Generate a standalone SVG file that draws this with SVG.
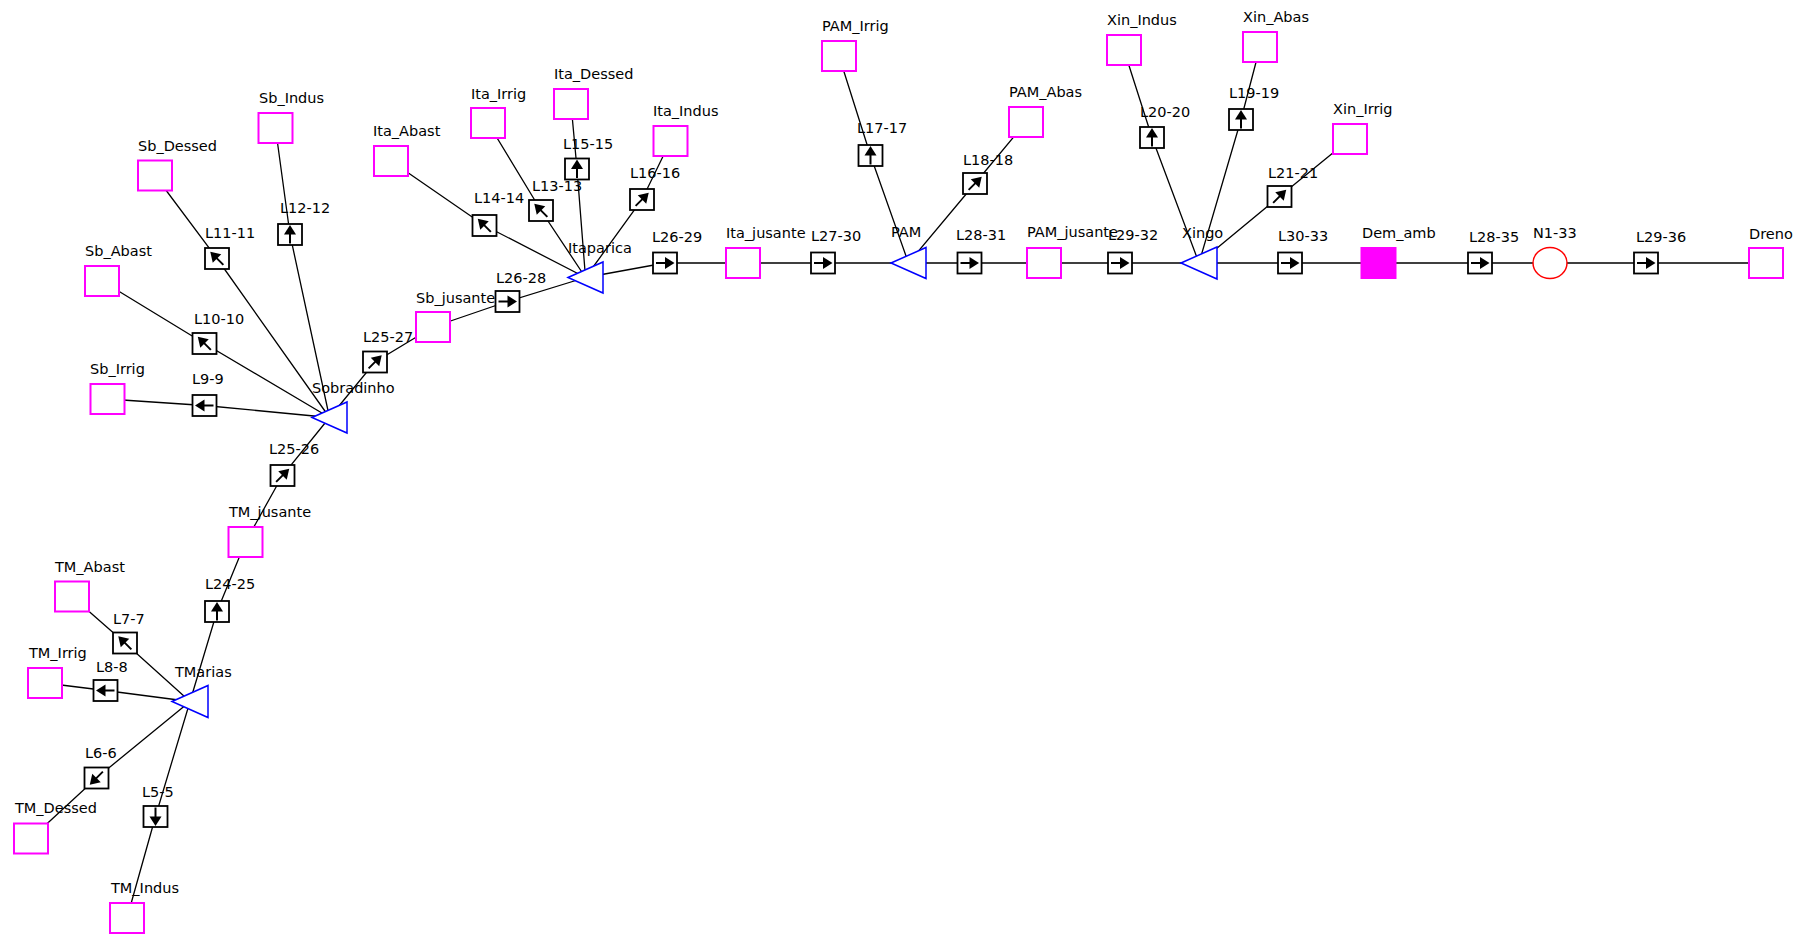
<svg xmlns="http://www.w3.org/2000/svg" xmlns:xlink="http://www.w3.org/1999/xlink" width="1795" height="936" viewBox="0 0 1795 936">
<style>
text{font-family:"DejaVu Sans","Liberation Sans",sans-serif;font-size:14.5px;fill:#000}
.dem{fill:#fff;stroke:#ff00ff;stroke-width:2}
.demf{fill:#ff00ff;stroke:#ff00ff;stroke-width:2}
.res{fill:#fff;stroke:#0000ff;stroke-width:1.5}
.box{fill:#fff;stroke:#000;stroke-width:1.8}
.nd{fill:#fff;stroke:#ff0000;stroke-width:1.5}
.cn{fill:none;stroke:#000;stroke-width:1.3}
</style>
<defs>
<g id="arr"><line x1="-9" y1="0" x2="3" y2="0" stroke="#000" stroke-width="2"/><polygon points="0,-6 9.5,0 0,6" fill="#000"/></g>
</defs>
<rect width="1795" height="936" fill="#fff"/>
<g id="connectors" class="cn">
<polyline points="72,596.5 125,643 190,701.5"/>
<polyline points="45,683 105.5,690.5 190,701.5"/>
<polyline points="31,838.5 96.5,778 190,701.5"/>
<polyline points="127,918 155.5,816.5 190,701.5"/>
<polyline points="190,701.5 217,611.5 245.5,542 282.5,475.5 329.5,417.5"/>
<polyline points="107.5,399 204.5,405.5 329.5,417.5"/>
<polyline points="102,281 204.5,343.5 329.5,417.5"/>
<polyline points="155,175.5 217,258.5 329.5,417.5"/>
<polyline points="275.5,128 290,234.5 329.5,417.5"/>
<polyline points="329.5,417.5 375,362 433,327 507.5,301.5 585.5,277.5"/>
<polyline points="391,161 484.5,225.5 585.5,277.5"/>
<polyline points="488,123 541,210.5 585.5,277.5"/>
<polyline points="571,104 577,169 585.5,277.5"/>
<polyline points="670.5,141 642,199.5 585.5,277.5"/>
<polyline points="585.5,277.5 665,263 1766,263"/>
<polyline points="839,56 870.5,155.5 908.5,263"/>
<polyline points="1026,122 975,183.5 908.5,263"/>
<polyline points="1124,50 1152,137.5 1199,263"/>
<polyline points="1260,47 1241,119.5 1199,263"/>
<polyline points="1350,139 1279.5,196.5 1199,263"/>
</g>
<g id="TMarias"><polygon class="res" points="172,701.5 208,685.5 208,717.5"/><text x="175" y="677">TMarias</text></g>
<g id="Sobradinho"><polygon class="res" points="312,417.5 347,402 347,433"/><text x="312" y="393">Sobradinho</text></g>
<g id="Itaparica"><polygon class="res" points="568,277.5 603,262 603,293"/><text x="568" y="253">Itaparica</text></g>
<g id="PAM"><polygon class="res" points="891,263 926,247.5 926,278.5"/><text x="891" y="237">PAM</text></g>
<g id="Xingo"><polygon class="res" points="1181,263 1217,247 1217,279"/><text x="1182" y="238">Xingo</text></g>
<g id="TM_Abast"><rect class="dem" x="55" y="581.5" width="34" height="30"/><text x="55" y="572">TM_Abast</text></g>
<g id="TM_Irrig"><rect class="dem" x="28" y="668" width="34" height="30"/><text x="29" y="658">TM_Irrig</text></g>
<g id="TM_Dessed"><rect class="dem" x="14" y="823.5" width="34" height="30"/><text x="15" y="813">TM_Dessed</text></g>
<g id="TM_Indus"><rect class="dem" x="110" y="903" width="34" height="30"/><text x="111" y="893">TM_Indus</text></g>
<g id="TM_jusante"><rect class="dem" x="228.5" y="527" width="34" height="30"/><text x="229" y="517">TM_jusante</text></g>
<g id="Sb_Abast"><rect class="dem" x="85" y="266" width="34" height="30"/><text x="85" y="256">Sb_Abast</text></g>
<g id="Sb_Irrig"><rect class="dem" x="90.5" y="384" width="34" height="30"/><text x="90" y="374">Sb_Irrig</text></g>
<g id="Sb_Dessed"><rect class="dem" x="138" y="160.5" width="34" height="30"/><text x="138" y="151">Sb_Dessed</text></g>
<g id="Sb_Indus"><rect class="dem" x="258.5" y="113" width="34" height="30"/><text x="259" y="103">Sb_Indus</text></g>
<g id="Sb_jusante"><rect class="dem" x="416" y="312" width="34" height="30"/><text x="416" y="303">Sb_jusante</text></g>
<g id="Ita_Abast"><rect class="dem" x="374" y="146" width="34" height="30"/><text x="373" y="136">Ita_Abast</text></g>
<g id="Ita_Irrig"><rect class="dem" x="471" y="108" width="34" height="30"/><text x="471" y="99">Ita_Irrig</text></g>
<g id="Ita_Dessed"><rect class="dem" x="554" y="89" width="34" height="30"/><text x="554" y="79">Ita_Dessed</text></g>
<g id="Ita_Indus"><rect class="dem" x="653.5" y="126" width="34" height="30"/><text x="653" y="116">Ita_Indus</text></g>
<g id="Ita_jusante"><rect class="dem" x="726" y="248" width="34" height="30"/><text x="726" y="238">Ita_jusante</text></g>
<g id="PAM_Irrig"><rect class="dem" x="822" y="41" width="34" height="30"/><text x="822" y="31">PAM_Irrig</text></g>
<g id="PAM_Abas"><rect class="dem" x="1009" y="107" width="34" height="30"/><text x="1009" y="97">PAM_Abas</text></g>
<g id="PAM_jusante"><rect class="dem" x="1027" y="248" width="34" height="30"/><text x="1027" y="237">PAM_jusante</text></g>
<g id="Xin_Indus"><rect class="dem" x="1107" y="35" width="34" height="30"/><text x="1107" y="25">Xin_Indus</text></g>
<g id="Xin_Abas"><rect class="dem" x="1243" y="32" width="34" height="30"/><text x="1243" y="22">Xin_Abas</text></g>
<g id="Xin_Irrig"><rect class="dem" x="1333" y="124" width="34" height="30"/><text x="1333" y="114">Xin_Irrig</text></g>
<g id="Dem_amb"><rect class="demf" x="1361.5" y="248" width="34" height="30"/><text x="1362" y="238">Dem_amb</text></g>
<g id="N1-33"><ellipse class="nd" cx="1550" cy="263" rx="17" ry="15.5"/><text x="1533" y="238">N1-33</text></g>
<g id="Dreno"><rect class="dem" x="1749" y="248" width="34" height="30"/><text x="1749" y="239">Dreno</text></g>
<g id="L7-7"><rect class="box" x="113" y="632.5" width="24" height="21"/><use xlink:href="#arr" transform="translate(125,643) rotate(-135)"/><text x="113" y="624">L7-7</text></g>
<g id="L8-8"><rect class="box" x="93.5" y="680" width="24" height="21"/><use xlink:href="#arr" transform="translate(105.5,690.5) rotate(180)"/><text x="96" y="672">L8-8</text></g>
<g id="L6-6"><rect class="box" x="84.5" y="767.5" width="24" height="21"/><use xlink:href="#arr" transform="translate(96.5,778) rotate(135)"/><text x="85" y="758">L6-6</text></g>
<g id="L5-5"><rect class="box" x="143.5" y="806" width="24" height="21"/><use xlink:href="#arr" transform="translate(155.5,816.5) rotate(90)"/><text x="142" y="797">L5-5</text></g>
<g id="L24-25"><rect class="box" x="205" y="601" width="24" height="21"/><use xlink:href="#arr" transform="translate(217,611.5) rotate(-90)"/><text x="205" y="589">L24-25</text></g>
<g id="L25-26"><rect class="box" x="270.5" y="465" width="24" height="21"/><use xlink:href="#arr" transform="translate(282.5,475.5) rotate(-45)"/><text x="269" y="454">L25-26</text></g>
<g id="L9-9"><rect class="box" x="192.5" y="395" width="24" height="21"/><use xlink:href="#arr" transform="translate(204.5,405.5) rotate(180)"/><text x="192" y="384">L9-9</text></g>
<g id="L10-10"><rect class="box" x="192.5" y="333" width="24" height="21"/><use xlink:href="#arr" transform="translate(204.5,343.5) rotate(-135)"/><text x="194" y="324">L10-10</text></g>
<g id="L11-11"><rect class="box" x="205" y="248" width="24" height="21"/><use xlink:href="#arr" transform="translate(217,258.5) rotate(-135)"/><text x="205" y="238">L11-11</text></g>
<g id="L12-12"><rect class="box" x="278" y="224" width="24" height="21"/><use xlink:href="#arr" transform="translate(290,234.5) rotate(-90)"/><text x="280" y="213">L12-12</text></g>
<g id="L25-27"><rect class="box" x="363" y="351.5" width="24" height="21"/><use xlink:href="#arr" transform="translate(375,362) rotate(-45)"/><text x="363" y="342">L25-27</text></g>
<g id="L26-28"><rect class="box" x="495.5" y="291" width="24" height="21"/><use xlink:href="#arr" transform="translate(507.5,301.5)"/><text x="496" y="283">L26-28</text></g>
<g id="L14-14"><rect class="box" x="472.5" y="215" width="24" height="21"/><use xlink:href="#arr" transform="translate(484.5,225.5) rotate(-135)"/><text x="474" y="203">L14-14</text></g>
<g id="L13-13"><rect class="box" x="529" y="200" width="24" height="21"/><use xlink:href="#arr" transform="translate(541,210.5) rotate(-135)"/><text x="532" y="191">L13-13</text></g>
<g id="L15-15"><rect class="box" x="565" y="158.5" width="24" height="21"/><use xlink:href="#arr" transform="translate(577,169) rotate(-90)"/><text x="563" y="149">L15-15</text></g>
<g id="L16-16"><rect class="box" x="630" y="189" width="24" height="21"/><use xlink:href="#arr" transform="translate(642,199.5) rotate(-45)"/><text x="630" y="178">L16-16</text></g>
<g id="L26-29"><rect class="box" x="653" y="252.5" width="24" height="21"/><use xlink:href="#arr" transform="translate(665,263)"/><text x="652" y="242">L26-29</text></g>
<g id="L27-30"><rect class="box" x="811" y="252.5" width="24" height="21"/><use xlink:href="#arr" transform="translate(823,263)"/><text x="811" y="241">L27-30</text></g>
<g id="L17-17"><rect class="box" x="858.5" y="145" width="24" height="21"/><use xlink:href="#arr" transform="translate(870.5,155.5) rotate(-90)"/><text x="857" y="133">L17-17</text></g>
<g id="L18-18"><rect class="box" x="963" y="173" width="24" height="21"/><use xlink:href="#arr" transform="translate(975,183.5) rotate(-45)"/><text x="963" y="165">L18-18</text></g>
<g id="L28-31"><rect class="box" x="957.5" y="252.5" width="24" height="21"/><use xlink:href="#arr" transform="translate(969.5,263)"/><text x="956" y="240">L28-31</text></g>
<g id="L29-32"><rect class="box" x="1108" y="252.5" width="24" height="21"/><use xlink:href="#arr" transform="translate(1120,263)"/><text x="1108" y="240">L29-32</text></g>
<g id="L20-20"><rect class="box" x="1140" y="127" width="24" height="21"/><use xlink:href="#arr" transform="translate(1152,137.5) rotate(-90)"/><text x="1140" y="117">L20-20</text></g>
<g id="L19-19"><rect class="box" x="1229" y="109" width="24" height="21"/><use xlink:href="#arr" transform="translate(1241,119.5) rotate(-90)"/><text x="1229" y="98">L19-19</text></g>
<g id="L21-21"><rect class="box" x="1267.5" y="186" width="24" height="21"/><use xlink:href="#arr" transform="translate(1279.5,196.5) rotate(-45)"/><text x="1268" y="178">L21-21</text></g>
<g id="L30-33"><rect class="box" x="1278" y="252.5" width="24" height="21"/><use xlink:href="#arr" transform="translate(1290,263)"/><text x="1278" y="241">L30-33</text></g>
<g id="L28-35"><rect class="box" x="1468" y="252.5" width="24" height="21"/><use xlink:href="#arr" transform="translate(1480,263)"/><text x="1469" y="242">L28-35</text></g>
<g id="L29-36"><rect class="box" x="1634" y="252.5" width="24" height="21"/><use xlink:href="#arr" transform="translate(1646,263)"/><text x="1636" y="242">L29-36</text></g>
</svg>
